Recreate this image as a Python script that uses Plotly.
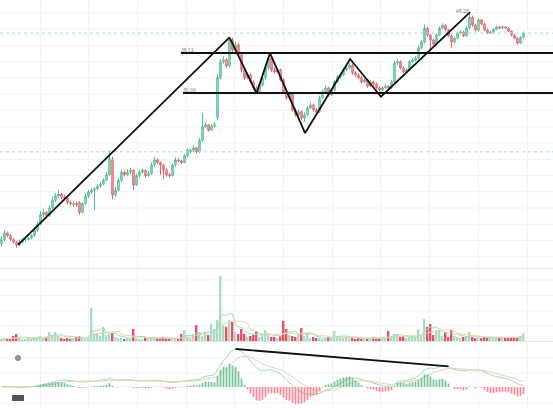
import plotly.graph_objects as go
import pandas as pd

# ---------------- data ----------------
opens = [12.3, 12.6, 13.1, 12.9, 12.6, 12.4, 12.2,
         12.4, 12.6, 12.6, 12.7, 12.9, 13.3,
         13.8, 14.6, 14.8, 14.5, 15.2, 15.9, 16.3, 16.5, 16.2,
         16.1, 15.7, 15.5, 15.6, 15.7,
         14.8, 15.6, 16.3, 16.7, 16.9,
         17.0, 17.3, 17.5, 17.9, 18.5,
         20.2, 16.4, 16.9, 17.9, 18.8, 18.5, 18.8, 19.0,
         17.4, 18.4, 18.8, 19.0, 18.4, 18.6, 19.6, 20.2, 19.9, 19.6, 19.0, 18.5,
         18.4, 19.6, 20.2, 20.1, 19.9, 20.7, 21.2, 21.4, 21.7, 21.2, 22.7,
         24.6, 24.9, 24.1, 24.7, 26.0, 33.0, 36.2, 36.6, 35.3,
         41.2, 38.8, 40.0, 37.7, 34.5, 32.9, 33.5, 32.1, 31.0, 30.3, 31.5, 32.9, 34.9,
         37.0, 34.5, 34.1, 34.5, 32.5, 30.3, 29.2, 29.9, 27.2, 26.4, 26.9, 25.9, 26.4, 27.5, 28.0, 27.2,
         26.9, 29.2, 30.3, 31.0, 29.7, 30.6, 32.1, 33.1, 33.5, 34.5, 34.9,
         35.5, 33.9, 33.5, 32.9, 32.1, 32.5, 31.3, 32.1, 31.7, 31.0, 30.6, 31.0, 31.3, 31.0,
         32.1, 35.9, 36.2, 34.9, 34.1, 34.5, 36.2, 36.6, 37.0, 39.3,
         40.7, 44.2, 42.4, 41.2, 40.2, 42.4, 44.2, 45.0, 43.7, 42.2, 40.7, 41.6, 42.9, 43.2, 42.2,
         44.2, 47.1, 45.0, 43.7, 46.4, 45.3, 43.7, 42.9, 43.2, 43.9, 44.5, 44.2, 44.5, 44.2, 43.4, 42.4, 41.6, 40.4, 41.8]

highs = [12.8, 13.3, 13.2, 13.0, 12.7, 12.5, 12.6,
         12.7, 12.8, 12.8, 13.0, 13.5, 14.0,
         14.9, 15.1, 14.9, 15.4, 16.2, 16.6, 16.9, 16.6, 16.4,
         16.2, 15.9, 15.8, 15.8, 15.8,
         15.7, 16.5, 16.9, 17.1, 17.2,
         17.5, 17.7, 18.1, 18.8, 21.4,
         20.6, 17.2, 18.2, 19.1, 19.0, 19.1, 19.3, 19.1,
         18.6, 19.0, 19.2, 19.1, 18.9, 19.9, 20.6, 20.4, 20.0, 19.7, 19.2, 18.7,
         19.8, 20.5, 20.4, 20.2, 20.9, 21.7, 21.6, 22.0, 21.8, 23.0, 26.7,
         25.3, 25.0, 25.0, 25.3, 33.6, 36.8, 37.3, 37.0, 42.0,
         41.8, 40.8, 40.5, 38.0, 34.9, 34.0, 33.8, 32.4, 31.3, 31.9, 33.3, 35.4, 37.6,
         37.4, 35.0, 34.9, 34.8, 32.8, 30.6, 30.3, 30.1, 27.5, 27.3, 27.1, 26.8, 27.8, 28.4, 28.2, 27.5,
         29.6, 30.7, 31.4, 31.2, 31.0, 32.5, 33.5, 33.9, 34.9, 35.3, 36.0,
         35.8, 34.2, 33.8, 33.2, 32.9, 32.7, 32.4, 32.3, 32.0, 31.3, 31.3, 31.6, 31.5, 32.4,
         36.4, 36.8, 36.5, 35.2, 34.9, 36.6, 37.0, 37.4, 39.8, 41.2,
         45.2, 44.6, 42.7, 41.5, 42.8, 44.6, 45.5, 45.3, 44.0, 42.5, 42.0, 43.3, 43.6, 43.5, 44.7,
         48.3, 47.6, 45.3, 46.9, 46.7, 45.6, 44.0, 43.5, 44.2, 44.8, 44.8, 44.8, 44.7, 44.4, 43.6, 42.7, 41.8, 42.1, 43.3]

lows = [12.1, 12.5, 12.8, 12.5, 12.3, 12.0, 12.1,
        12.3, 12.4, 12.5, 12.6, 12.8, 13.2,
        13.7, 14.4, 14.3, 14.4, 15.1, 15.7, 16.1, 16.0, 15.9,
        15.5, 15.4, 15.3, 15.3, 14.6,
        14.7, 15.5, 16.1, 16.5, 15.0,
        16.9, 17.1, 17.4, 17.8, 18.4,
        16.0, 16.2, 16.8, 17.7, 18.3, 18.4, 18.6, 16.9,
        17.3, 18.2, 18.6, 18.2, 18.3, 18.5, 19.4, 19.7, 18.5, 18.0, 18.3, 18.2,
        18.3, 19.4, 19.9, 19.7, 19.8, 20.5, 21.0, 21.2, 21.0, 21.1, 22.5,
        24.4, 23.9, 24.0, 24.5, 25.5, 32.6, 35.8, 34.9, 35.0,
        38.3, 38.4, 37.3, 34.0, 32.5, 32.6, 31.8, 30.7, 29.9, 30.0, 31.2, 32.6, 34.6,
        34.1, 33.7, 33.8, 32.2, 29.9, 28.9, 28.9, 26.9, 26.1, 26.2, 25.6, 25.3, 26.2, 27.3, 26.9, 26.6,
        26.7, 29.0, 30.0, 29.4, 29.5, 30.4, 31.9, 32.8, 33.2, 34.2, 34.6,
        33.5, 33.1, 32.6, 31.8, 31.9, 31.0, 31.1, 31.4, 30.7, 30.3, 30.4, 30.8, 30.7, 30.8,
        31.9, 35.5, 34.6, 33.8, 33.9, 34.3, 35.9, 36.3, 36.8, 39.0,
        40.4, 42.0, 38.8, 39.8, 40.0, 42.1, 43.9, 43.4, 41.9, 39.3, 40.4, 41.4, 42.6, 41.9, 42.0,
        43.9, 44.6, 43.3, 43.4, 45.0, 43.4, 42.6, 42.7, 43.0, 43.7, 44.0, 44.0, 44.0, 43.1, 42.1, 41.3, 40.1, 40.2, 41.6]

closes = [12.6, 13.1, 12.9, 12.6, 12.4, 12.2, 12.4,
          12.6, 12.6, 12.7, 12.9, 13.3, 13.8,
          14.6, 14.8, 14.5, 15.2, 15.9, 16.3, 16.5, 16.2, 16.1,
          15.7, 15.6, 15.6, 15.5, 14.8,
          15.6, 16.3, 16.7, 16.9, 17.0,
          17.3, 17.5, 17.9, 18.5, 20.4,
          16.4, 16.9, 17.9, 18.8, 18.5, 18.8, 19.0, 17.4,
          18.4, 18.8, 19.0, 18.4, 18.6, 19.6, 20.2, 19.9, 19.6, 19.0, 18.5, 18.4,
          19.6, 20.2, 20.1, 19.9, 20.7, 21.4, 21.4, 21.7, 21.2, 22.7, 24.6,
          24.9, 24.1, 24.7, 24.9, 33.0, 36.2, 36.6, 35.3, 41.2,
          38.8, 40.0, 37.7, 34.5, 32.9, 33.5, 32.1, 31.0, 30.3, 31.5, 32.9, 34.9, 37.0,
          34.5, 34.1, 34.5, 32.5, 30.3, 29.2, 29.9, 27.2, 26.4, 26.9, 25.9, 26.4, 27.5, 28.0, 27.2, 26.9,
          29.2, 30.3, 31.0, 29.7, 30.6, 32.1, 33.1, 33.5, 34.5, 34.9, 35.5,
          33.9, 33.5, 32.9, 32.1, 32.5, 31.3, 32.1, 31.7, 31.0, 30.6, 31.0, 31.3, 31.0, 32.1,
          35.9, 36.2, 34.9, 34.1, 34.5, 36.2, 36.6, 37.0, 39.3, 40.7,
          44.2, 42.4, 41.2, 40.2, 42.4, 44.2, 45.0, 43.7, 42.2, 40.7, 41.6, 42.9, 43.2, 42.2, 44.2,
          47.1, 45.0, 43.7, 46.4, 45.3, 43.7, 42.9, 43.2, 43.9, 44.5, 44.2, 44.5, 44.2, 43.4, 42.4, 41.6, 40.4, 41.8, 42.9]

volumes = [2, 3, 2, 2, 5, 7, 3, 2, 2, 3,
           2, 3, 4, 5, 3, 4, 9, 6, 9, 5,
           3, 2, 3, 2, 2, 4, 5, 3, 2, 3,
           33, 8, 8, 5, 14, 6, 7, 8, 4, 3,
           3, 2, 3, 2, 12, 3, 2, 2, 3, 2,
           3, 4, 2, 3, 4, 2, 2, 3, 3, 2,
           7, 11, 4, 3, 6, 16, 9, 5, 9, 6,
           17, 12, 21, 65, 16, 14, 21, 19, 9, 7,
           12, 7, 4, 5, 6, 10, 4, 6, 11, 6,
           4, 4, 3, 5, 20, 12, 6, 5, 4, 7,
           13, 5, 8, 3, 4, 3, 3, 2, 3, 4,
           3, 10, 4, 5, 3, 4, 3, 3, 2, 3,
           2, 3, 2, 3, 4, 2, 3, 3, 2, 10,
           4, 7, 7, 4, 5, 3, 4, 5, 4, 12,
           6, 22, 14, 17, 6, 11, 11, 5, 9, 4,
           11, 5, 4, 3, 4, 5, 9, 4, 3, 4,
           3, 4, 3, 3, 4, 3, 3, 4, 3, 4,
           3, 4, 3, 5, 8]

# hand-drawn analysis lines (candle index, price)
trend_x = [5.5, 76.0]
trend_y = [12.2, 41.8]
zigzag_x = [76.0, 85.0, 89.5, 101.2, 116.2, 126.5, 156.2]
zigzag_y = [41.8, 30.0, 38.1, 23.7, 36.8, 29.4, 48.6]
level_prices = [38.12, 30.06]
level_start = [59.8, 60.5]
level_labels = ["38.12", "30.06"]
peak_label = "48.28"
price_lines = [42.9, 21.2]
macd_line_end = 149

# ---------------- derived ----------------
N = len(closes)
idx = list(range(N))
XR = [-0.5, 553 / 3 - 0.5]
H_PX = 408.0

cs = pd.Series(closes)
ema12 = cs.ewm(span=12, adjust=False).mean()
ema26 = cs.ewm(span=26, adjust=False).mean()
dif = ema12 - ema26
dea = dif.ewm(span=9, adjust=False).mean()
hist = 2 * (dif - dea)
vs = pd.Series(volumes, dtype=float)
vma5 = vs.rolling(5, min_periods=1).mean()
vma10 = vs.rolling(10, min_periods=1).mean()

UP, UP_FILL = "#4fbf8c", "#a6e2c6"
DN, DN_FILL = "#ee5f70", "#f7adb5"

fig = go.Figure()
fig.add_trace(go.Candlestick(
    x=idx, open=opens, high=highs, low=lows, close=closes,
    increasing=dict(line=dict(color=UP, width=1), fillcolor=UP_FILL),
    decreasing=dict(line=dict(color=DN, width=1), fillcolor=DN_FILL),
    whiskerwidth=0, xaxis="x", yaxis="y", showlegend=False, hoverinfo="skip"))

for p in price_lines:
    fig.add_trace(go.Scatter(x=XR, y=[p, p], mode="lines", xaxis="x", yaxis="y",
                             line=dict(color="#a9d6cf", width=1, dash="dot"),
                             showlegend=False, hoverinfo="skip"))

fig.add_trace(go.Scatter(x=trend_x, y=trend_y, mode="lines", xaxis="x", yaxis="y",
                         line=dict(color="#111", width=1.8), showlegend=False, hoverinfo="skip"))
fig.add_trace(go.Scatter(x=zigzag_x, y=zigzag_y, mode="lines", xaxis="x", yaxis="y",
                         line=dict(color="#111", width=1.8), showlegend=False, hoverinfo="skip"))
for p, s, lab in zip(level_prices, level_start, level_labels):
    fig.add_trace(go.Scatter(x=[s, XR[1]], y=[p, p], mode="lines", xaxis="x", yaxis="y",
                             line=dict(color="#111", width=1.8), showlegend=False, hoverinfo="skip"))
    fig.add_trace(go.Scatter(x=[s], y=[p], mode="text", text=[lab], textposition="top right",
                             textfont=dict(size=5, color="#777"), xaxis="x", yaxis="y",
                             showlegend=False, hoverinfo="skip"))
fig.add_trace(go.Scatter(x=[zigzag_x[-1] - 0.5], y=[zigzag_y[-1]], mode="text", text=[peak_label],
                         textposition="middle left", textfont=dict(size=5, color="#777"),
                         xaxis="x", yaxis="y", showlegend=False, hoverinfo="skip"))

# volume
vol_colors = ["#a8dcc6" if c >= o else "#ea5063" for o, c in zip(opens, closes)]
fig.add_trace(go.Bar(x=idx, y=volumes, marker=dict(color=vol_colors, line=dict(width=0)),
                     width=0.6, xaxis="x2", yaxis="y2", showlegend=False, hoverinfo="skip"))
fig.add_trace(go.Scatter(x=idx, y=vma5, mode="lines", line=dict(color="#8fe0cb", width=1),
                         xaxis="x2", yaxis="y2", showlegend=False, hoverinfo="skip"))
fig.add_trace(go.Scatter(x=idx, y=vma10, mode="lines", line=dict(color="#ead2a6", width=1),
                         xaxis="x2", yaxis="y2", showlegend=False, hoverinfo="skip"))

# MACD
hist_colors = ["rgba(86,182,134,0.8)" if h >= 0 else "rgba(238,92,108,0.7)" for h in hist]
fig.add_trace(go.Bar(x=idx, y=hist, marker=dict(color=hist_colors, line=dict(width=0)),
                     width=0.6, xaxis="x3", yaxis="y4", showlegend=False, hoverinfo="skip"))
fig.add_trace(go.Scatter(x=idx, y=dif, mode="lines", line=dict(color="#8fe0cb", width=1),
                         xaxis="x3", yaxis="y3", showlegend=False, hoverinfo="skip"))
fig.add_trace(go.Scatter(x=idx, y=dea, mode="lines", line=dict(color="#ead2a6", width=1),
                         xaxis="x3", yaxis="y3", showlegend=False, hoverinfo="skip"))
i0 = int(dif.idxmax())
fig.add_trace(go.Scatter(x=[i0, macd_line_end], y=[dif[i0], dif[macd_line_end]], mode="lines",
                         line=dict(color="#111", width=1.8), xaxis="x3", yaxis="y3",
                         showlegend=False, hoverinfo="skip"))

M = float(dif.max())
Hh = float(hist.max())
Vmax = max(volumes)

def pdom(top_px, bot_px):
    return [1 - bot_px / H_PX, 1 - top_px / H_PX]

xcommon = dict(range=XR, showticklabels=False, showgrid=True, gridcolor="#f1f4f4",
               tick0=(40 - 1.5) / 3, dtick=48.7 / 3, zeroline=False, showline=False,
               fixedrange=True)

shapes = []
def hline(py, color="#f1f4f4"):
    shapes.append(dict(type="line", xref="paper", yref="paper", x0=0, x1=1,
                       y0=1 - py / H_PX, y1=1 - py / H_PX, line=dict(color=color, width=1),
                       layer="below"))
for k in range(16):
    hline(13 + 16.25 * k)
for py in [280, 295.5, 311, 326, 358, 373, 403]:
    hline(py)
hline(268.5, "#e4e7e7")
hline(341.5, "#e4e7e7")
shapes.append(dict(type="circle", xref="paper", yref="paper",
                   x0=15.5 / 553, x1=20.5 / 553, y0=1 - 360.5 / H_PX, y1=1 - 355.5 / H_PX,
                   fillcolor="#999", line=dict(color="#777", width=1)))
shapes.append(dict(type="rect", xref="paper", yref="paper",
                   x0=12 / 553, x1=24 / 553, y0=1 - 401 / H_PX, y1=1 - 395 / H_PX,
                   fillcolor="#555", line=dict(width=0)))

fig.update_layout(
    width=553, height=408, margin=dict(l=0, r=0, t=0, b=0),
    paper_bgcolor="white", plot_bgcolor="rgba(0,0,0,0)", showlegend=False,
    bargap=0.4,
    xaxis=dict(**xcommon, anchor="y", domain=[0, 1], rangeslider=dict(visible=False)),
    yaxis=dict(type="log", range=[1.02676, 1.71782], domain=pdom(0, 268),
               showgrid=False, showticklabels=False, zeroline=False, fixedrange=True),
    xaxis2=dict(**xcommon, anchor="y2", domain=[0, 1]),
    yaxis2=dict(range=[0, Vmax * 71 / 65], domain=pdom(270, 341), showgrid=False,
                showticklabels=False, zeroline=False, fixedrange=True),
    xaxis3=dict(**xcommon, anchor="y3", domain=[0, 1]),
    yaxis3=dict(range=[-21 / 38 * M, 44 / 38 * M], domain=pdom(343, 408), showgrid=False,
                showticklabels=False, zeroline=False, fixedrange=True),
    yaxis4=dict(range=[-21 / 23 * Hh, 44 / 23 * Hh], overlaying="y3", anchor="x3",
                showgrid=False, showticklabels=False, zeroline=False, visible=False),
    shapes=shapes,
    annotations=[dict(x=18 / 553, y=1 - 398 / H_PX, xref="paper", yref="paper", text="7.0",
                      showarrow=False, font=dict(size=4, color="white"))],
)

fig.write_html("out.html", config={"displayModeBar": False},
               post_script="document.body.style.margin='0px';document.body.style.padding='0px';")
